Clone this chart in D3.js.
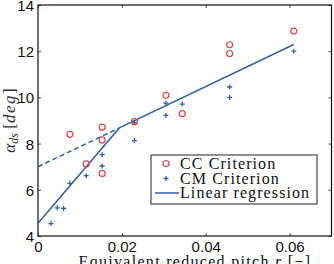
<!DOCTYPE html>
<html>
<head>
<meta charset="utf-8">
<script src="https://cdn.jsdelivr.net/npm/d3@7"></script>
<style>
  body { margin: 0; background: #fff; }
  text { fill: #111; }
</style>
</head>
<body>
<div id="plot"></div>
<script>
// data
var ccX = [0.0076, 0.0115, 0.0153, 0.0153, 0.0153, 0.0230, 0.0305, 0.0344, 0.0457, 0.0457, 0.0610];
var ccY = [8.40, 7.12, 8.71, 8.16, 6.71, 8.95, 10.09, 9.30, 12.28, 11.90, 12.87];
var cmX = [0.0031, 0.0046, 0.0061, 0.0076, 0.0115, 0.0153, 0.0153, 0.0230, 0.0230, 0.0305, 0.0305, 0.0344, 0.0457, 0.0457, 0.0610];
var cmY = [4.54, 5.22, 5.19, 6.28, 6.61, 7.52, 7.03, 8.90, 8.13, 9.75, 9.22, 9.71, 10.45, 10.00, 12.00];
var regX = [0, 0.0194, 0.0610],
    regY = [4.55, 8.68, 12.29];
var dashX = [0, 0.0194],
    dashY = [7.00, 8.68];
var xTicks = [0, 0.02, 0.04, 0.06],
    yTicks = [4, 6, 8, 10, 12, 14];
var legendLabels = ["CC Criterion", "CM Criterion", "Linear regression"];

var W = 334, H = 264;
var margin = {top: 5, right: 2.5, bottom: 28, left: 38};
var width = W - margin.left - margin.right,
    height = H - margin.top - margin.bottom;

var red = "#e4434c", blue = "#2f62a8";

var svg = d3.select("#plot").append("svg")
    .attr("width", W).attr("height", H);

var chart = svg.append("g")
    .attr("transform", "translate(" + margin.left + "," + margin.top + ")");

var x = d3.scaleLinear().domain([0, 0.07]).range([0, width]);
var y = d3.scaleLinear().domain([4, 14]).range([height, 0]);

/*------------------------------------------*/
/*            Axes (inner ticks)            */
/*------------------------------------------*/
var fmtX = function(d) { return d === 0 ? "0" : d3.format(".2f")(d); };

var xAxis = chart.append("g")
    .attr("transform", "translate(0," + height + ")")
    .call(d3.axisBottom(x).tickValues(xTicks).tickFormat(fmtX).tickSizeInner(-3).tickSizeOuter(0).tickPadding(5));
var xTop = chart.append("g")
    .call(d3.axisTop(x).tickValues(xTicks).tickFormat("").tickSizeInner(-3).tickSizeOuter(0));
var yAxis = chart.append("g")
    .call(d3.axisLeft(y).tickValues(yTicks).tickSizeInner(-3).tickSizeOuter(0).tickPadding(4));
var yRight = chart.append("g")
    .attr("transform", "translate(" + width + ",0)")
    .call(d3.axisRight(y).tickValues(yTicks).tickFormat("").tickSizeInner(-3).tickSizeOuter(0));

[xAxis, xTop, yAxis, yRight].forEach(function(a) {
  a.select(".domain").remove();
  a.selectAll(".tick line").style("stroke", "#222").style("stroke-width", 0.8);
  a.selectAll("text")
    .style("font-family", "'Liberation Sans', Arial, sans-serif")
    .style("font-size", "15px")
    .style("fill", "#111");
});
yAxis.selectAll(".tick text").attr("dy", "0.36em");

chart.append("rect")
    .attr("width", width).attr("height", height)
    .style("fill", "none").style("stroke", "#111").style("stroke-width", 1.2);

/*------------------------------------------*/
/*            Regression lines              */
/*------------------------------------------*/
var line = d3.line()
    .x(function(d) { return x(d[0]); })
    .y(function(d) { return y(d[1]); });

chart.append("path")
    .datum(dashX.map(function(v, i) { return [v, dashY[i]]; }))
    .attr("d", line)
    .style("fill", "none").style("stroke", blue)
    .style("stroke-width", 1.5).style("stroke-dasharray", "5,3");

chart.append("path")
    .datum(regX.map(function(v, i) { return [v, regY[i]]; }))
    .attr("d", line)
    .style("fill", "none").style("stroke", blue).style("stroke-width", 1.5);

/*------------------------------------------*/
/*            Points                        */
/*------------------------------------------*/
var cc = ccX.map(function(v, i) { return {x: v, y: ccY[i]}; }),
    cm = cmX.map(function(v, i) { return {x: v, y: cmY[i]}; });

function plusPath(s) {
  return "M" + (-s) + ",0H" + s + "M0," + (-s) + "V" + s;
}

chart.selectAll(".cm")
  .data(cm)
  .enter().append("path")
  .attr("class", "cm")
  .attr("transform", function(d) { return "translate(" + x(d.x) + "," + y(d.y) + ")"; })
  .attr("d", plusPath(2.5))
  .style("stroke", blue).style("stroke-width", 1.3).style("fill", "none");

chart.selectAll(".cc")
  .data(cc)
  .enter().append("circle")
  .attr("class", "cc")
  .attr("cx", function(d) { return x(d.x); })
  .attr("cy", function(d) { return y(d.y); })
  .attr("r", 3)
  .style("fill", "none").style("stroke", red).style("stroke-width", 1.2);

/*------------------------------------------*/
/*            Legend                        */
/*------------------------------------------*/
var legend = svg.append("g").attr("transform", "translate(151,155)");

legend.append("rect")
    .attr("width", 166).attr("height", 49)
    .style("fill", "#fff").style("stroke", "#222").style("stroke-width", 1);

legend.append("circle")
    .attr("cx", 15).attr("cy", 8.5).attr("r", 3)
    .style("fill", "none").style("stroke", red).style("stroke-width", 1.2);
legend.append("path")
    .attr("transform", "translate(15,23.5)")
    .attr("d", plusPath(2.5))
    .style("stroke", blue).style("stroke-width", 1.3);
legend.append("line")
    .attr("x1", 4).attr("x2", 28).attr("y1", 38).attr("y2", 38)
    .style("stroke", blue).style("stroke-width", 1.5);

legend.selectAll(".leg")
  .data(legendLabels)
  .enter().append("text")
  .attr("x", 29)
  .attr("y", function(d, i) { return 14 + i * 14.5; })
  .text(function(d) { return d; })
  .style("font-family", "'Liberation Serif', 'Times New Roman', serif")
  .style("font-size", "16px")
  .style("letter-spacing", "1.1px");

/*------------------------------------------*/
/*            Axis titles                   */
/*------------------------------------------*/
var xLab = svg.append("text")
    .attr("x", 195).attr("y", 267)
    .attr("text-anchor", "middle")
    .style("font-family", "'Liberation Serif', 'Times New Roman', serif")
    .style("font-size", "16px")
    .style("letter-spacing", "1.3px");
xLab.append("tspan").text("Equivalent reduced pitch ");
xLab.append("tspan").style("font-style", "italic").text("r");
xLab.append("tspan").text(" [\u2212]");

var yLab = svg.append("text")
    .attr("transform", "translate(15," + (margin.top + height / 2) + ") rotate(-90)")
    .attr("text-anchor", "middle")
    .style("font-family", "'Liberation Serif', 'Times New Roman', serif")
    .style("font-size", "17px")
    .style("fill", "#333");
yLab.append("tspan").style("font-style", "italic").text("\u03b1");
yLab.append("tspan").style("font-style", "italic").style("font-size", "12px").attr("dy", 3).text("ds");
yLab.append("tspan").attr("dy", -3).text(" [");
yLab.append("tspan").style("font-style", "italic").style("letter-spacing", "1.5px").text("deg");
yLab.append("tspan").text("]");
</script>
</body>
</html>
